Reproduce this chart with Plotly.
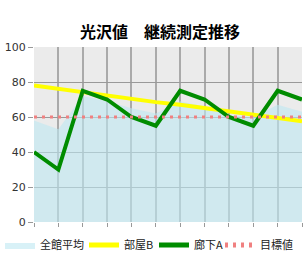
import plotly.graph_objects as go

points = list(range(12))
avg_all = [58, 53, 72, 69, 65, 62, 69, 66, 61, 60, 67, 63]
room_b = [78, 76, 74, 72, 70, 68.5, 67, 65, 63, 61, 59, 57.5]
hall_a = [40, 30, 75, 70, 60, 55, 75, 70, 60, 55, 75, 70]
target = [60] * 12
y_ticks = [0, 20, 40, 60, 80, 100]

font = "Noto Sans CJK JP"
W, H = 303, 275
legend_px = [0, 84, 154, 220]  # left edge of each legend entry (px)

fig = go.Figure()
fig.add_trace(go.Scatter(x=points, y=avg_all, name="全館平均", mode="lines",
                         fill="tozeroy", fillcolor="rgba(190,232,242,0.6)",
                         line=dict(width=0, color="rgba(190,232,242,0.6)"),
                         legend="legend"))
fig.add_trace(go.Scatter(x=points, y=room_b, name="部屋B", mode="lines",
                         line=dict(color="#ffff00", width=4), legend="legend2"))
fig.add_trace(go.Scatter(x=points, y=hall_a, name="廊下A", mode="lines",
                         line=dict(color="#008c00", width=4), legend="legend3"))
fig.add_trace(go.Scatter(x=points, y=target, name="目標値", mode="lines",
                         line=dict(color="#f08080", width=3, dash="3px,5px"),
                         legend="legend4"))

def leg(px):
    return dict(orientation="h", xref="container", x=px / W, xanchor="left",
                yref="container", y=30 / H, yanchor="middle",
                font=dict(family=font, size=11, color="#222"),
                itemwidth=30, tracegroupgap=0, itemsizing="constant",
                bgcolor="rgba(0,0,0,0)")

fig.update_layout(
    width=W, height=H,
    margin=dict(l=34, r=1, t=47, b=53, autoexpand=False),
    paper_bgcolor="white", plot_bgcolor="#ebebeb",
    title=dict(text="<b>光沢値　継続測定推移</b>", xref="container", x=160 / W,
               xanchor="center", yref="container", y=1 - 32 / H, yanchor="middle",
               font=dict(family=font, size=16, color="#000")),
    font=dict(family=font, size=11, color="#333"),
    showlegend=True,
    legend=leg(legend_px[0]),
    legend2=leg(legend_px[1]),
    legend3=leg(legend_px[2]),
    legend4=leg(legend_px[3]),
)
fig.update_xaxes(range=[0, 11], showticklabels=False, ticks="outside", ticklen=4,
                 tickcolor="#999", tickvals=points, showgrid=True,
                 gridcolor="#aaaaaa", gridwidth=1.5, zeroline=False,
                 showline=False)
fig.update_yaxes(range=[0, 100], tickvals=y_ticks, ticks="outside", ticklen=5,
                 tickcolor="#999", showgrid=True, gridcolor="#999999",
                 gridwidth=1, zeroline=False, showline=False,
                 tickfont=dict(family="DejaVu Sans", size=11, color="#333"))

fig.write_html("out.html")
